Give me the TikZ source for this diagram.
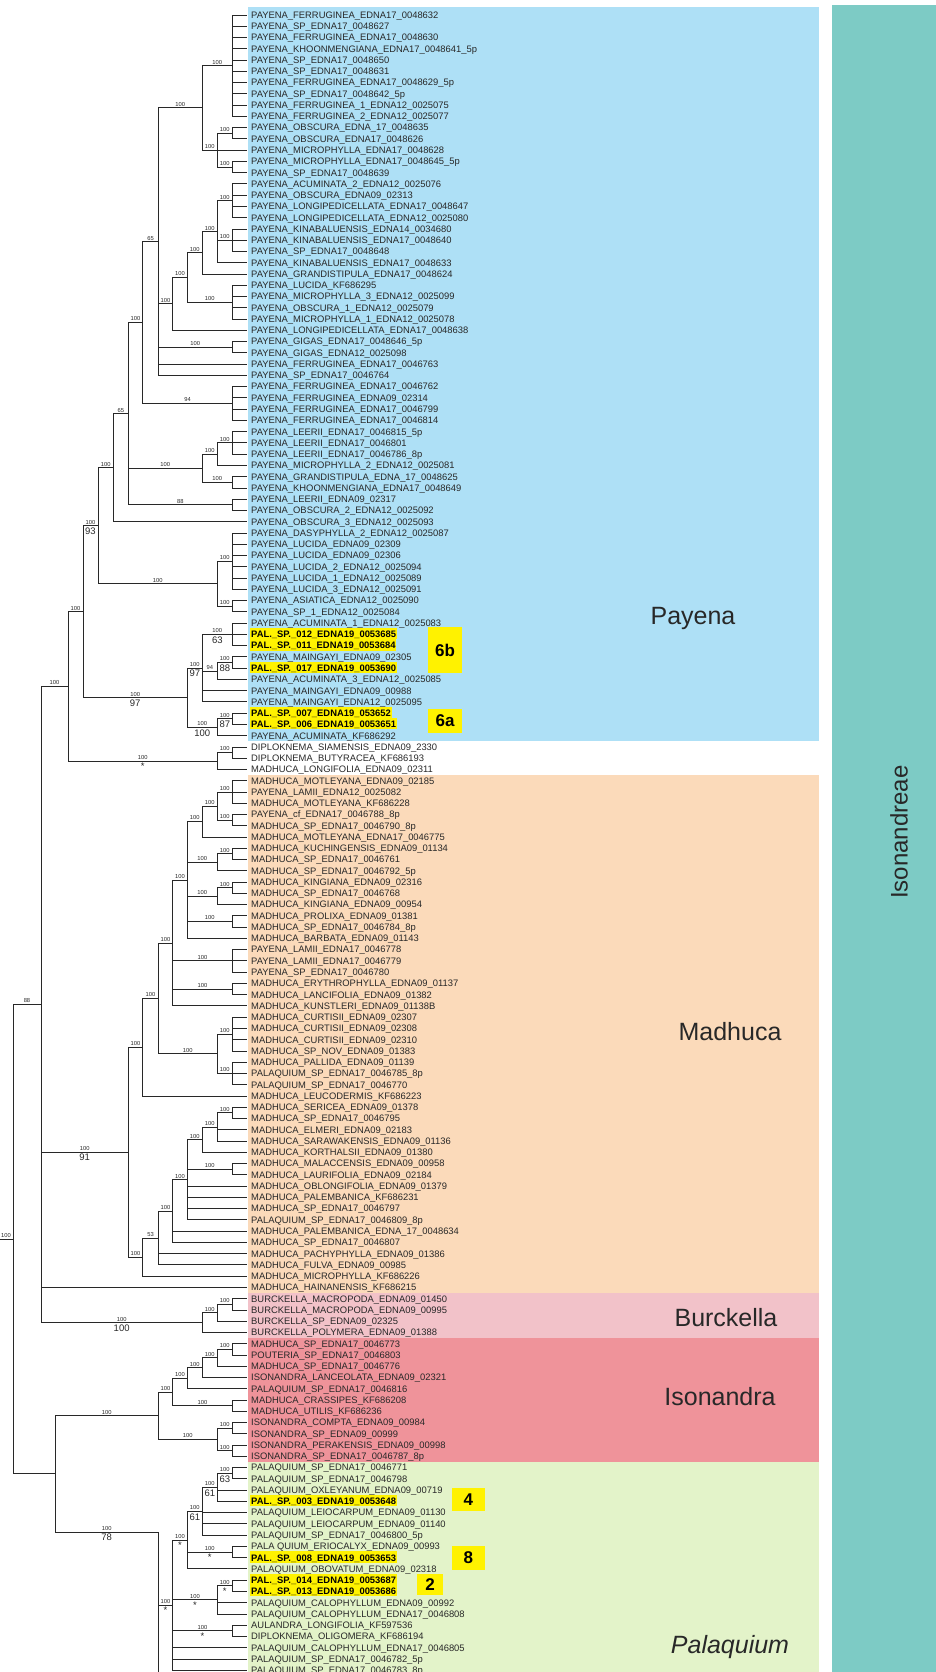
\documentclass[tikz,border=0pt]{standalone}
\usepackage{fontspec}
\setmainfont{Liberation Sans}
\usetikzlibrary{calc}
\definecolor{cblue}{RGB}{174,224,246}
\definecolor{corange}{RGB}{251,218,186}
\definecolor{cpink}{RGB}{242,194,201}
\definecolor{cred}{RGB}{239,147,154}
\definecolor{cgreen}{RGB}{227,243,201}
\definecolor{cteal}{RGB}{125,203,197}
\definecolor{hl}{RGB}{255,242,0}
\definecolor{ink}{RGB}{40,40,40}
\newcommand\leaffont{\fontsize{9.4}{10}\selectfont}
\newcommand\cl[4]{\path let \p1=(#3),\p2=(#4) in (#2pt,{(\y1+\y2)/2}) coordinate (#1);}
\newcommand\tbr[2]{\draw[br] (#1) |- (#2);}
\newcommand\tbs[3]{\draw[br] (#1) |- (#2) node[bsl] {#3};}
\newcommand\tbd[4]{\draw[br] (#1) |- (#2) node[bsl] {#3} node[bll] {#4};}
\begin{document}
\begin{tikzpicture}[x=1pt,y=-1pt,
  br/.style={draw=ink, line width=0.8pt},
  bsl/.style={pos=.75, above=0.8pt, inner sep=0.3pt, font=\fontsize{5.8}{6}\selectfont, text=ink},
  bll/.style={pos=.75, below=1.5pt, inner sep=0.3pt, font=\fontsize{9.5}{10}\selectfont, text=ink},
  labn/.style={anchor=base west, inner sep=0pt, font=\leaffont, text=ink},
  labh/.style={anchor=base west, inner xsep=0.8pt, inner ysep=0pt, xshift=-0.8pt, font=\leaffont\bfseries, text=black, fill=hl, text height=9.6pt, text depth=1.6pt},
  nbox/.style={fill=hl, inner sep=0pt, font=\fontsize{17}{17}\selectfont\bfseries},
  grp/.style={font=\fontsize{25}{30}\selectfont, text=ink, inner sep=0pt}]
\useasboundingbox (0,0) rectangle (936,1672);
% background bands
\fill[cblue] (248,7) rectangle (819,740.8);
\fill[corange] (248,775) rectangle (819,1293);
\fill[cpink] (248,1293) rectangle (819,1338);
\fill[cred] (248,1338) rectangle (819,1461.7);
\fill[cgreen] (248,1461.7) rectangle (819,1672);
\fill[cteal] (832,5) rectangle (936,1672);
% leaves
\foreach \s/\t [count=\i] in {
n/PAYENA\_FERRUGINEA\_EDNA17\_0048632,
n/PAYENA\_SP\_EDNA17\_0048627,
n/PAYENA\_FERRUGINEA\_EDNA17\_0048630,
n/PAYENA\_KHOONMENGIANA\_EDNA17\_0048641\_5p,
n/PAYENA\_SP\_EDNA17\_0048650,
n/PAYENA\_SP\_EDNA17\_0048631,
n/PAYENA\_FERRUGINEA\_EDNA17\_0048629\_5p,
n/PAYENA\_SP\_EDNA17\_0048642\_5p,
n/PAYENA\_FERRUGINEA\_1\_EDNA12\_0025075,
n/PAYENA\_FERRUGINEA\_2\_EDNA12\_0025077,
n/PAYENA\_OBSCURA\_EDNA\_17\_0048635,
n/PAYENA\_OBSCURA\_EDNA17\_0048626,
n/PAYENA\_MICROPHYLLA\_EDNA17\_0048628,
n/PAYENA\_MICROPHYLLA\_EDNA17\_0048645\_5p,
n/PAYENA\_SP\_EDNA17\_0048639,
n/PAYENA\_ACUMINATA\_2\_EDNA12\_0025076,
n/PAYENA\_OBSCURA\_EDNA09\_02313,
n/PAYENA\_LONGIPEDICELLATA\_EDNA17\_0048647,
n/PAYENA\_LONGIPEDICELLATA\_EDNA12\_0025080,
n/PAYENA\_KINABALUENSIS\_EDNA14\_0034680,
n/PAYENA\_KINABALUENSIS\_EDNA17\_0048640,
n/PAYENA\_SP\_EDNA17\_0048648,
n/PAYENA\_KINABALUENSIS\_EDNA17\_0048633,
n/PAYENA\_GRANDISTIPULA\_EDNA17\_0048624,
n/PAYENA\_LUCIDA\_KF686295,
n/PAYENA\_MICROPHYLLA\_3\_EDNA12\_0025099,
n/PAYENA\_OBSCURA\_1\_EDNA12\_0025079,
n/PAYENA\_MICROPHYLLA\_1\_EDNA12\_0025078,
n/PAYENA\_LONGIPEDICELLATA\_EDNA17\_0048638,
n/PAYENA\_GIGAS\_EDNA17\_0048646\_5p,
n/PAYENA\_GIGAS\_EDNA12\_0025098,
n/PAYENA\_FERRUGINEA\_EDNA17\_0046763,
n/PAYENA\_SP\_EDNA17\_0046764,
n/PAYENA\_FERRUGINEA\_EDNA17\_0046762,
n/PAYENA\_FERRUGINEA\_EDNA09\_02314,
n/PAYENA\_FERRUGINEA\_EDNA17\_0046799,
n/PAYENA\_FERRUGINEA\_EDNA17\_0046814,
n/PAYENA\_LEERII\_EDNA17\_0046815\_5p,
n/PAYENA\_LEERII\_EDNA17\_0046801,
n/PAYENA\_LEERII\_EDNA17\_0046786\_8p,
n/PAYENA\_MICROPHYLLA\_2\_EDNA12\_0025081,
n/PAYENA\_GRANDISTIPULA\_EDNA\_17\_0048625,
n/PAYENA\_KHOONMENGIANA\_EDNA17\_0048649,
n/PAYENA\_LEERII\_EDNA09\_02317,
n/PAYENA\_OBSCURA\_2\_EDNA12\_0025092,
n/PAYENA\_OBSCURA\_3\_EDNA12\_0025093,
n/PAYENA\_DASYPHYLLA\_2\_EDNA12\_0025087,
n/PAYENA\_LUCIDA\_EDNA09\_02309,
n/PAYENA\_LUCIDA\_EDNA09\_02306,
n/PAYENA\_LUCIDA\_2\_EDNA12\_0025094,
n/PAYENA\_LUCIDA\_1\_EDNA12\_0025089,
n/PAYENA\_LUCIDA\_3\_EDNA12\_0025091,
n/PAYENA\_ASIATICA\_EDNA12\_0025090,
n/PAYENA\_SP\_1\_EDNA12\_0025084,
n/PAYENA\_ACUMINATA\_1\_EDNA12\_0025083,
h/PAL.\_SP.\_012\_EDNA19\_0053685,
h/PAL.\_SP.\_011\_EDNA19\_0053684,
n/PAYENA\_MAINGAYI\_EDNA09\_02305,
h/PAL.\_SP.\_017\_EDNA19\_0053690,
n/PAYENA\_ACUMINATA\_3\_EDNA12\_0025085,
n/PAYENA\_MAINGAYI\_EDNA09\_00988,
n/PAYENA\_MAINGAYI\_EDNA12\_0025095,
h/PAL.\_SP.\_007\_EDNA19\_053652,
h/PAL.\_SP.\_006\_EDNA19\_0053651,
n/PAYENA\_ACUMINATA\_KF686292,
n/DIPLOKNEMA\_SIAMENSIS\_EDNA09\_2330,
n/DIPLOKNEMA\_BUTYRACEA\_KF686193,
n/MADHUCA\_LONGIFOLIA\_EDNA09\_02311,
n/MADHUCA\_MOTLEYANA\_EDNA09\_02185,
n/PAYENA\_LAMII\_EDNA12\_0025082,
n/MADHUCA\_MOTLEYANA\_KF686228,
n/PAYENA\_cf\_EDNA17\_0046788\_8p,
n/MADHUCA\_SP\_EDNA17\_0046790\_8p,
n/MADHUCA\_MOTLEYANA\_EDNA17\_0046775,
n/MADHUCA\_KUCHINGENSIS\_EDNA09\_01134,
n/MADHUCA\_SP\_EDNA17\_0046761,
n/MADHUCA\_SP\_EDNA17\_0046792\_5p,
n/MADHUCA\_KINGIANA\_EDNA09\_02316,
n/MADHUCA\_SP\_EDNA17\_0046768,
n/MADHUCA\_KINGIANA\_EDNA09\_00954,
n/MADHUCA\_PROLIXA\_EDNA09\_01381,
n/MADHUCA\_SP\_EDNA17\_0046784\_8p,
n/MADHUCA\_BARBATA\_EDNA09\_01143,
n/PAYENA\_LAMII\_EDNA17\_0046778,
n/PAYENA\_LAMII\_EDNA17\_0046779,
n/PAYENA\_SP\_EDNA17\_0046780,
n/MADHUCA\_ERYTHROPHYLLA\_EDNA09\_01137,
n/MADHUCA\_LANCIFOLIA\_EDNA09\_01382,
n/MADHUCA\_KUNSTLERI\_EDNA09\_01138B,
n/MADHUCA\_CURTISII\_EDNA09\_02307,
n/MADHUCA\_CURTISII\_EDNA09\_02308,
n/MADHUCA\_CURTISII\_EDNA09\_02310,
n/MADHUCA\_SP\_NOV\_EDNA09\_01383,
n/MADHUCA\_PALLIDA\_EDNA09\_01139,
n/PALAQUIUM\_SP\_EDNA17\_0046785\_8p,
n/PALAQUIUM\_SP\_EDNA17\_0046770,
n/MADHUCA\_LEUCODERMIS\_KF686223,
n/MADHUCA\_SERICEA\_EDNA09\_01378,
n/MADHUCA\_SP\_EDNA17\_0046795,
n/MADHUCA\_ELMERI\_EDNA09\_02183,
n/MADHUCA\_SARAWAKENSIS\_EDNA09\_01136,
n/MADHUCA\_KORTHALSII\_EDNA09\_01380,
n/MADHUCA\_MALACCENSIS\_EDNA09\_00958,
n/MADHUCA\_LAURIFOLIA\_EDNA09\_02184,
n/MADHUCA\_OBLONGIFOLIA\_EDNA09\_01379,
n/MADHUCA\_PALEMBANICA\_KF686231,
n/MADHUCA\_SP\_EDNA17\_0046797,
n/PALAQUIUM\_SP\_EDNA17\_0046809\_8p,
n/MADHUCA\_PALEMBANICA\_EDNA\_17\_0048634,
n/MADHUCA\_SP\_EDNA17\_0046807,
n/MADHUCA\_PACHYPHYLLA\_EDNA09\_01386,
n/MADHUCA\_FULVA\_EDNA09\_00985,
n/MADHUCA\_MICROPHYLLA\_KF686226,
n/MADHUCA\_HAINANENSIS\_KF686215,
n/BURCKELLA\_MACROPODA\_EDNA09\_01450,
n/BURCKELLA\_MACROPODA\_EDNA09\_00995,
n/BURCKELLA\_SP\_EDNA09\_02325,
n/BURCKELLA\_POLYMERA\_EDNA09\_01388,
n/MADHUCA\_SP\_EDNA17\_0046773,
n/POUTERIA\_SP\_EDNA17\_0046803,
n/MADHUCA\_SP\_EDNA17\_0046776,
n/ISONANDRA\_LANCEOLATA\_EDNA09\_02321,
n/PALAQUIUM\_SP\_EDNA17\_0046816,
n/MADHUCA\_CRASSIPES\_KF686208,
n/MADHUCA\_UTILIS\_KF686236,
n/ISONANDRA\_COMPTA\_EDNA09\_00984,
n/ISONANDRA\_SP\_EDNA09\_00999,
n/ISONANDRA\_PERAKENSIS\_EDNA09\_00998,
n/ISONANDRA\_SP\_EDNA17\_0046787\_8p,
n/PALAQUIUM\_SP\_EDNA17\_0046771,
n/PALAQUIUM\_SP\_EDNA17\_0046798,
n/PALAQUIUM\_OXLEYANUM\_EDNA09\_00719,
h/PAL.\_SP.\_003\_EDNA19\_0053648,
n/PALAQUIUM\_LEIOCARPUM\_EDNA09\_01130,
n/PALAQUIUM\_LEIOCARPUM\_EDNA09\_01140,
n/PALAQUIUM\_SP\_EDNA17\_0046800\_5p,
n/PALA QUIUM\_ERIOCALYX\_EDNA09\_00993,
h/PAL.\_SP.\_008\_EDNA19\_0053653,
n/PALAQUIUM\_OBOVATUM\_EDNA09\_02318,
h/PAL.\_SP.\_014\_EDNA19\_0053687,
h/PAL.\_SP.\_013\_EDNA19\_0053686,
n/PALAQUIUM\_CALOPHYLLUM\_EDNA09\_00992,
n/PALAQUIUM\_CALOPHYLLUM\_EDNA17\_0046808,
n/AULANDRA\_LONGIFOLIA\_KF597536,
n/DIPLOKNEMA\_OLIGOMERA\_KF686194,
n/PALAQUIUM\_CALOPHYLLUM\_EDNA17\_0046805,
n/PALAQUIUM\_SP\_EDNA17\_0046782\_5p,
n/PALAQUIUM\_SP\_EDNA17\_0046783\_8p}{
  \coordinate (l\i) at (246.5,{15+(\i-1)*11.26});
  \node[lab\s] (t\i) at (251,{18.4+(\i-1)*11.26}) {\t};
}
% ---------------- Payena ----------------
\cl{nA}{232.3}{l1}{l10}
\cl{n1112}{232.3}{l11}{l12}
\cl{n1415}{232.3}{l14}{l15}
\cl{nC}{217.3}{n1112}{n1415}
\cl{nB}{202.3}{nA}{nC}
\cl{n1619}{232.3}{l16}{l19}
\cl{n2022}{232.3}{l20}{l22}
\cl{nE}{217.3}{n1619}{l23}
\cl{nF}{202.3}{nE}{l24}
\cl{n2528}{232.3}{l25}{l28}
\cl{nG}{187.3}{nF}{n2528}
\cl{nH}{172.7}{nG}{l29}
\cl{n3031}{232.3}{l30}{l31}
\cl{nD}{158.3}{nB}{l33}
\cl{n3437}{232.3}{l34}{l37}
\cl{nI}{142.7}{nD}{n3437}
\cl{n3840}{232.3}{l38}{l40}
\cl{n3841}{217.3}{n3840}{l41}
\cl{n4243}{232.3}{l42}{l43}
\cl{nK}{202.3}{n3841}{n4243}
\cl{n4445}{232.3}{l44}{l45}
\cl{nJ}{128.3}{nI}{n4445}
\cl{nL}{113.3}{nJ}{l46}
\cl{n4752}{232.3}{l47}{l52}
\cl{n5354}{232.3}{l53}{l54}
\cl{nN}{217.3}{n4752}{n5354}
\cl{nM}{98}{nL}{nN}
\cl{n5557}{232.3}{l55}{l57}
\cl{n5859}{232.3}{l58}{l59}
\cl{n5860}{217.3}{n5859}{l60}
\cl{nP}{202.3}{n5557}{l62}
\cl{n6364}{232.3}{l63}{l64}
\cl{n6365}{217.3}{n6364}{l65}
\cl{nQ}{187.3}{nP}{n6365}
\cl{nX}{83}{nM}{nQ}
\cl{n6667}{232.3}{l66}{l67}
\cl{nDip}{217.3}{n6667}{l68}
\cl{nW}{68}{nX}{nDip}
% ---------------- Madhuca ----------------
\cl{n6971}{232.3}{l69}{l71}
\cl{n7273}{232.3}{l72}{l73}
\cl{nO1}{217.3}{n6971}{n7273}
\cl{nO2}{202.3}{nO1}{l74}
\cl{n7576}{232.3}{l75}{l76}
\cl{n7577}{217.3}{n7576}{l77}
\cl{n7879}{232.3}{l78}{l79}
\cl{n7880}{217.3}{n7879}{l80}
\cl{n8182}{232.3}{l81}{l82}
\cl{nP1}{187.3}{nO2}{l83}
\cl{n8486}{232.3}{l84}{l86}
\cl{n8788}{232.3}{l87}{l88}
\cl{nP2}{172.7}{nP1}{l89}
\cl{n9093}{232.3}{l90}{l93}
\cl{n9496}{232.3}{l94}{l96}
\cl{n9096}{217.3}{n9093}{n9496}
\cl{nP3}{158.3}{nP2}{n9096}
\cl{nP4}{142.7}{nP3}{l97}
\cl{n9899}{232.3}{l98}{l99}
\cl{n98101}{217.3}{n9899}{l101}
\cl{n98102}{202.3}{n98101}{l102}
\cl{n103104}{232.3}{l103}{l104}
\cl{nS1}{187.3}{n98102}{l108}
\cl{nS2}{172.7}{nS1}{l110}
\cl{nS3}{158.3}{nS2}{l112}
\cl{nS4}{142.7}{nS3}{l113}
\cl{nT}{128.3}{nP4}{nS4}
% ---------------- Burckella ----------------
\cl{n115116}{232.3}{l115}{l116}
\cl{n115117}{217.3}{n115116}{l117}
\cl{nBur}{202.3}{n115117}{l118}
% ---------------- Isonandra ----------------
\cl{n119120}{232.3}{l119}{l120}
\cl{n119121}{217.3}{n119120}{l121}
\cl{n119122}{202.3}{n119121}{l122}
\cl{n119123}{187.3}{n119122}{l123}
\cl{n124125}{232.3}{l124}{l125}
\cl{nI1}{172.7}{n119123}{n124125}
\cl{n126127}{232.3}{l126}{l127}
\cl{n128129}{232.3}{l128}{l129}
\cl{n126129}{217.3}{n126127}{n128129}
\cl{nI2}{158.3}{nI1}{n126129}
% ---------------- Palaquium ----------------
\cl{n130131}{232.3}{l130}{l131}
\cl{n130133}{217.3}{n130131}{l133}
\cl{n130136}{202.3}{n130133}{l136}
\cl{n137138}{232.3}{l137}{l138}
\cl{nPa1}{187.3}{n130136}{l139}
\cl{n140141}{232.3}{l140}{l141}
\cl{n140143}{217.3}{n140141}{l143}
\cl{n144145}{232.3}{l144}{l145}
\cl{nPa2}{172.7}{nPa1}{l148}
\coordinate (nPal) at (158.3,1532);
\coordinate (nPalEnd) at (158.3,1700);
% ---------------- backbone ----------------
\cl{nV}{41}{nW}{nBur}
\cl{nIP}{55}{nI2}{nPal}
\cl{nR}{13}{nV}{nIP}
\path (nR) ++(-14,0) coordinate (nRoot);
% ---------------- branches: Payena ----------------
\foreach \i in {1,...,10}{\tbr{nA}{l\i}}
\tbr{n1112}{l11}\tbr{n1112}{l12}
\tbr{n1415}{l14}\tbr{n1415}{l15}
\tbs{nC}{n1112}{100}\tbr{nC}{l13}\tbs{nC}{n1415}{100}
\tbs{nB}{nA}{100}\tbs{nB}{nC}{100}
\foreach \i in {16,...,19}{\tbr{n1619}{l\i}}
\foreach \i in {20,...,22}{\tbr{n2022}{l\i}}
\tbs{nE}{n1619}{100}\tbs{nE}{n2022}{100}\tbr{nE}{l23}
\tbs{nF}{nE}{100}\tbr{nF}{l24}
\foreach \i in {25,...,28}{\tbr{n2528}{l\i}}
\tbs{nG}{nF}{100}\tbs{nG}{n2528}{100}
\tbs{nH}{nG}{100}\tbr{nH}{l29}
\tbr{n3031}{l30}\tbr{n3031}{l31}
\tbs{nD}{nB}{100}\tbs{nD}{nH}{100}\tbs{nD}{n3031}{100}\tbr{nD}{l32}\tbr{nD}{l33}
\foreach \i in {34,...,37}{\tbr{n3437}{l\i}}
\tbs{nI}{nD}{65}\tbs{nI}{n3437}{94}
\foreach \i in {38,...,40}{\tbr{n3840}{l\i}}
\tbs{n3841}{n3840}{100}\tbr{n3841}{l41}
\tbr{n4243}{l42}\tbr{n4243}{l43}
\tbs{nK}{n3841}{100}\tbs{nK}{n4243}{100}
\tbr{n4445}{l44}\tbr{n4445}{l45}
\tbs{nJ}{nI}{100}\tbs{nJ}{nK}{100}\tbs{nJ}{n4445}{88}
\tbs{nL}{nJ}{65}\tbr{nL}{l46}
\foreach \i in {47,...,52}{\tbr{n4752}{l\i}}
\tbr{n5354}{l53}\tbr{n5354}{l54}
\tbs{nN}{n4752}{100}\tbs{nN}{n5354}{100}
\tbs{nM}{nL}{100}\tbs{nM}{nN}{100}
\foreach \i in {55,...,57}{\tbr{n5557}{l\i}}
\tbr{n5859}{l58}\tbr{n5859}{l59}
\tbd{n5860}{n5859}{100}{88}\tbr{n5860}{l60}
\tbd{nP}{n5557}{100}{63}\tbs{nP}{n5860}{94}\tbr{nP}{l61}\tbr{nP}{l62}
\tbr{n6364}{l63}\tbr{n6364}{l64}
\tbd{n6365}{n6364}{100}{87}\tbr{n6365}{l65}
\tbd{nQ}{nP}{100}{97}\tbd{nQ}{n6365}{100}{100}
\tbr{n6667}{l66}\tbr{n6667}{l67}
\tbs{nDip}{n6667}{100}\tbr{nDip}{l68}
\tbd{nX}{nM}{100}{93}\tbd{nX}{nQ}{100}{97}
\tbs{nW}{nX}{100}\tbd{nW}{nDip}{100}{*}
% ---------------- branches: Madhuca ----------------
\foreach \i in {69,...,71}{\tbr{n6971}{l\i}}
\tbr{n7273}{l72}\tbr{n7273}{l73}
\tbs{nO1}{n6971}{100}\tbs{nO1}{n7273}{100}
\tbs{nO2}{nO1}{100}\tbr{nO2}{l74}
\tbr{n7576}{l75}\tbr{n7576}{l76}
\tbs{n7577}{n7576}{100}\tbr{n7577}{l77}
\tbr{n7879}{l78}\tbr{n7879}{l79}
\tbs{n7880}{n7879}{100}\tbr{n7880}{l80}
\tbr{n8182}{l81}\tbr{n8182}{l82}
\tbs{nP1}{nO2}{100}\tbs{nP1}{n7577}{100}\tbs{nP1}{n7880}{100}\tbs{nP1}{n8182}{100}\tbr{nP1}{l83}
\foreach \i in {84,...,86}{\tbr{n8486}{l\i}}
\tbr{n8788}{l87}\tbr{n8788}{l88}
\tbs{nP2}{nP1}{100}\tbs{nP2}{n8486}{100}\tbs{nP2}{n8788}{100}\tbr{nP2}{l89}
\foreach \i in {90,...,93}{\tbr{n9093}{l\i}}
\foreach \i in {94,...,96}{\tbr{n9496}{l\i}}
\tbs{n9096}{n9093}{100}\tbs{n9096}{n9496}{100}
\tbs{nP3}{nP2}{100}\tbs{nP3}{n9096}{100}
\tbs{nP4}{nP3}{100}\tbr{nP4}{l97}
\tbr{n9899}{l98}\tbr{n9899}{l99}
\tbs{n98101}{n9899}{100}\tbr{n98101}{l100}\tbr{n98101}{l101}
\tbs{n98102}{n98101}{100}\tbr{n98102}{l102}
\tbr{n103104}{l103}\tbr{n103104}{l104}
\tbs{nS1}{n98102}{100}\tbs{nS1}{n103104}{100}
\foreach \i in {105,...,108}{\tbr{nS1}{l\i}}
\tbs{nS2}{nS1}{100}\tbr{nS2}{l109}\tbr{nS2}{l110}
\tbs{nS3}{nS2}{100}\tbr{nS3}{l111}\tbr{nS3}{l112}
\tbs{nS4}{nS3}{53}\tbr{nS4}{l113}
\tbs{nT}{nP4}{100}\tbs{nT}{nS4}{100}
% ---------------- branches: Burckella ----------------
\tbr{n115116}{l115}\tbr{n115116}{l116}
\tbs{n115117}{n115116}{100}\tbr{n115117}{l117}
\tbs{nBur}{n115117}{100}\tbr{nBur}{l118}
% ---------------- branches: Isonandra ----------------
\tbr{n119120}{l119}\tbr{n119120}{l120}
\tbs{n119121}{n119120}{100}\tbr{n119121}{l121}
\tbs{n119122}{n119121}{100}\tbr{n119122}{l122}
\tbs{n119123}{n119122}{100}\tbr{n119123}{l123}
\tbr{n124125}{l124}\tbr{n124125}{l125}
\tbs{nI1}{n119123}{100}\tbs{nI1}{n124125}{100}
\tbr{n126127}{l126}\tbr{n126127}{l127}
\tbr{n128129}{l128}\tbr{n128129}{l129}
\tbs{n126129}{n126127}{100}\tbs{n126129}{n128129}{100}
\tbs{nI2}{nI1}{100}\tbs{nI2}{n126129}{100}
% ---------------- branches: Palaquium ----------------
\tbr{n130131}{l130}\tbr{n130131}{l131}
\tbd{n130133}{n130131}{100}{63}\tbr{n130133}{l132}\tbr{n130133}{l133}
\tbd{n130136}{n130133}{100}{61}\tbr{n130136}{l134}\tbr{n130136}{l135}\tbr{n130136}{l136}
\tbr{n137138}{l137}\tbr{n137138}{l138}
\tbd{nPa1}{n130136}{100}{61}\tbd{nPa1}{n137138}{100}{*}\tbr{nPa1}{l139}
\tbr{n140141}{l140}\tbr{n140141}{l141}
\tbd{n140143}{n140141}{100}{*}\tbr{n140143}{l142}\tbr{n140143}{l143}
\tbr{n144145}{l144}\tbr{n144145}{l145}
\tbd{nPa2}{nPa1}{100}{*}\tbd{nPa2}{n140143}{100}{*}\tbd{nPa2}{n144145}{100}{*}
\tbr{nPa2}{l146}\tbr{nPa2}{l147}\tbr{nPa2}{l148}
\tbd{nPal}{nPa2}{100}{*}\draw[br] (nPal) -- (nPalEnd);
% ---------------- backbone ----------------
\tbs{nV}{nW}{100}\tbd{nV}{nT}{100}{91}\tbr{nV}{l114}\tbd{nV}{nBur}{100}{100}
\tbs{nIP}{nI2}{100}\tbd{nIP}{nPal}{100}{78}
\tbs{nR}{nV}{88}\tbr{nR}{nIP}
\draw[br] (nRoot) -- (nR) node[midway, above=0.8pt, inner sep=0.3pt, font=\fontsize{5.8}{6}\selectfont, text=ink] {100};
% ---------------- highlight numbers ----------------
\node[nbox, minimum width=34pt, minimum height=45.7pt] (k6b) at (445,650) {6b};
\node[nbox, minimum width=34pt, minimum height=23.7pt] (k6a) at (445,721) {6a};
\node[nbox, minimum width=33.3pt, minimum height=22.7pt] (k4) at (468.3,1499.3) {4};
\node[nbox, minimum width=33.3pt, minimum height=23.7pt] (k8) at (468.3,1557.8) {8};
\node[nbox, minimum width=26.6pt, minimum height=21.3pt] (k2) at (430,1584.7) {2};
% ---------------- group names ----------------
\node[grp] (gPay) at (693,618) {Payena};
\node[grp] (gMad) at (730,1032) {Madhuca};
\node[grp] (gBur) at (726,1318) {Burckella};
\node[grp] (gIso) at (720,1397) {Isonandra};
\node[grp, font=\fontsize{25}{30}\selectfont\itshape] (gPal) at (730,1647) {Palaquium};
\node[grp, rotate=90, font=\fontsize{24}{30}\selectfont] (gIsd) at (899,832) {Isonandreae};
\end{tikzpicture}
\end{document}
